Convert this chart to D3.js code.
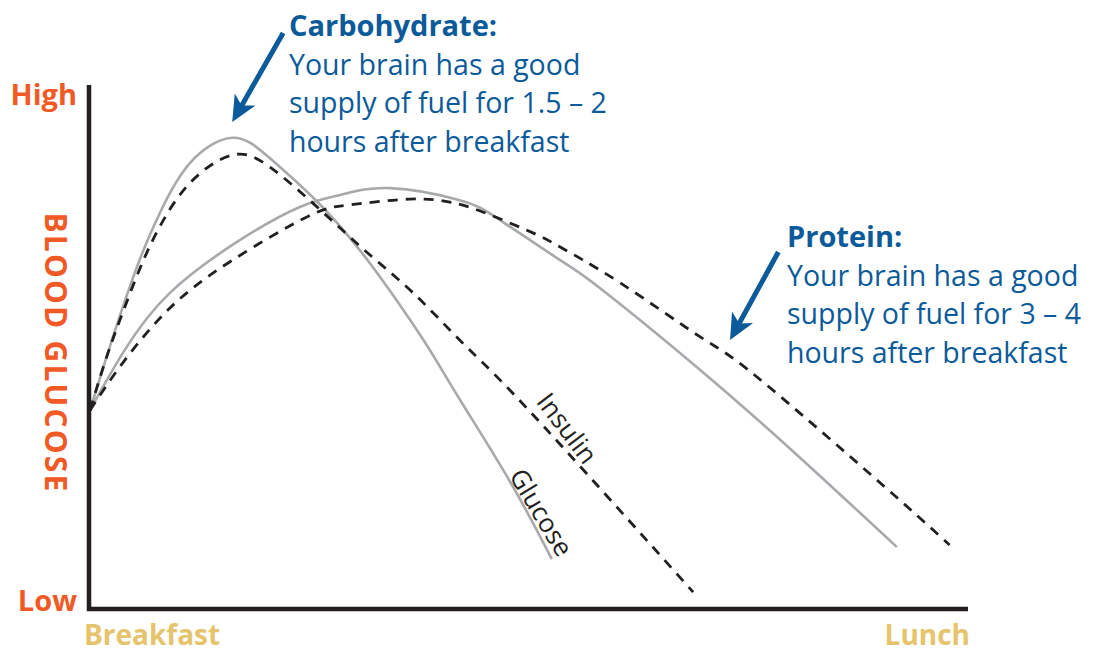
<!DOCTYPE html>
<html><head><meta charset="utf-8">
<script src="https://cdn.jsdelivr.net/npm/d3@7"></script>
<style>
html,body{margin:0;padding:0;background:#fff;}
svg{display:block;}
</style></head>
<body>
<svg id="chart" width="1097" height="653"></svg>
<script>
// ---- data (x: 0 = Breakfast .. 100 = Lunch, y: 0 = Low .. 100 = High) ----
const carbGlucoseX  = [0, 1.7, 3.4, 5.7, 8.0, 11.4, 16.2, 20.5, 26.0, 30.8, 34.5, 38.4, 42.1, 47.8, 52.6];
const carbGlucoseY  = [38.5, 47.7, 56.5, 67.4, 76.3, 85.7, 90.5, 86.6, 78.1, 68.9, 60.5, 50.8, 40.6, 25.0, 10.1];
const carbInsulinX  = [0, 1.7, 3.4, 5.7, 8.0, 11.4, 16.2, 20.5, 26.0, 31.5, 36.8, 42.1, 47.5, 56.9, 68.7];
const carbInsulinY  = [38.5, 47.7, 55.7, 65.6, 73.7, 81.9, 87.2, 84.9, 77.1, 68.7, 60.9, 51.9, 42.9, 25.8, 3.8];
const protGlucoseX  = [0, 3.8, 9.1, 17.1, 23.9, 28.5, 34.2, 42.1, 46.7, 53.5, 58.1, 69.5, 80.9, 91.9];
const protGlucoseY  = [38.5, 49.6, 60.9, 71.0, 77.3, 79.6, 80.9, 78.6, 74.8, 67.2, 61.8, 46.2, 29.4, 12.4];
const protInsulinX  = [0, 3.8, 9.1, 15.9, 24.7, 29.6, 36.4, 41.0, 44.8, 50.5, 53.5, 60.4, 69.5, 76.0, 90.3, 97.9];
const protInsulinY  = [38.5, 47.7, 58.0, 66.8, 75.4, 77.7, 78.8, 78.2, 76.3, 72.3, 69.7, 62.8, 52.5, 44.8, 24.2, 12.8];

const yTickLabels = ["Low", "High"];
const xTickLabels = ["Breakfast", "Lunch"];
const yAxisTitle = "BLOOD GLUCOSE";
const curveLabels = ["Insulin", "Glucose"];
const carbTitle = "Carbohydrate:";
const carbLines = ["Your brain has a good", "supply of fuel for 1.5 \u2013 2", "hours after breakfast"];
const protTitle = "Protein:";
const protLines = ["Your brain has a good", "supply of fuel for 3 \u2013 4", "hours after breakfast"];

// ---- layout ----
const svg = d3.select("#chart");
const x = d3.scaleLinear().domain([0, 100]).range([90, 968]);
const y = d3.scaleLinear().domain([0, 100]).range([612, 88]);

const ORANGE = "#f15a24", GOLD = "#e6c46c", BLUE = "#0b5a99", INK = "#231f20", GRAY = "#a7a9ac";
const FONT = "'Open Sans', 'Noto Sans', sans-serif";

const zip = (xs, ys) => xs.map((v, i) => [v, ys[i]]);
const line = d3.line().x(d => x(d[0])).y(d => y(d[1])).curve(d3.curveNatural);

// curves
const g = svg.append("g");
g.append("path").attr("d", line(zip(protGlucoseX, protGlucoseY)))
  .attr("fill", "none").attr("stroke", GRAY).attr("stroke-width", 2.6);
g.append("path").attr("d", line(zip(carbGlucoseX, carbGlucoseY)))
  .attr("fill", "none").attr("stroke", GRAY).attr("stroke-width", 2.6);
g.append("path").attr("d", line(zip(protInsulinX, protInsulinY)))
  .attr("fill", "none").attr("stroke", INK).attr("stroke-width", 2.8).attr("stroke-dasharray", "10,8");
g.append("path").attr("d", line(zip(carbInsulinX, carbInsulinY)))
  .attr("fill", "none").attr("stroke", INK).attr("stroke-width", 2.8).attr("stroke-dasharray", "10,8");

// axes
svg.append("line").attr("x1", 89).attr("x2", 89).attr("y1", 85).attr("y2", 611)
  .attr("stroke", INK).attr("stroke-width", 4.5);
svg.append("line").attr("x1", 87).attr("x2", 968).attr("y1", 609).attr("y2", 609)
  .attr("stroke", INK).attr("stroke-width", 4.5);

// axis labels
svg.append("text").text(yTickLabels[1]).attr("x", 77).attr("y", 105).attr("text-anchor", "end")
  .attr("font-family", FONT).attr("font-weight", 700).attr("font-size", 29).attr("fill", ORANGE);
svg.append("text").text(yTickLabels[0]).attr("x", 77).attr("y", 611).attr("text-anchor", "end")
  .attr("font-family", FONT).attr("font-weight", 700).attr("font-size", 29).attr("fill", ORANGE);
svg.append("text").text(xTickLabels[0]).attr("x", 84).attr("y", 645)
  .attr("font-family", FONT).attr("font-weight", 700).attr("font-size", 28).attr("fill", GOLD);
svg.append("text").text(xTickLabels[1]).attr("x", 970).attr("y", 645).attr("text-anchor", "end")
  .attr("font-family", FONT).attr("font-weight", 700).attr("font-size", 28).attr("fill", GOLD);
svg.append("text").text(yAxisTitle)
  .attr("transform", "translate(45,353) rotate(90)").attr("text-anchor", "middle")
  .attr("font-family", FONT).attr("font-weight", 700).attr("font-size", 30).attr("letter-spacing", 2.2)
  .attr("fill", ORANGE);

// curve labels
svg.append("text").text(curveLabels[0])
  .attr("transform", `translate(${x(53.5)},${y(34.0)}) rotate(53)`).attr("text-anchor", "middle")
  .attr("font-family", FONT).attr("font-size", 26).attr("fill", INK);
svg.append("text").text(curveLabels[1])
  .attr("transform", `translate(${x(50.5)},${y(18.1)}) rotate(59)`).attr("text-anchor", "middle")
  .attr("font-family", FONT).attr("font-size", 26).attr("fill", INK);

// annotations
function note(tx, ty, title, lines) {
  const t = svg.append("text").attr("font-family", FONT).attr("fill", BLUE);
  t.append("tspan").text(title).attr("x", tx).attr("y", ty).attr("font-weight", 700).attr("font-size", 29);
  lines.forEach((l, i) => t.append("tspan").text(l).attr("x", tx).attr("y", ty + 38.5 * (i + 1)).attr("font-size", 28.5));
}
note(289, 36, carbTitle, carbLines);
note(787, 247, protTitle, protLines);

function arrow(x0, y0, x1, y1) {
  const X0 = x(x0), Y0 = y(y0), X1 = x(x1), Y1 = y(y1);
  const ang = Math.atan2(Y1 - Y0, X1 - X0);
  const len = Math.hypot(X1 - X0, Y1 - Y0);
  const ga = svg.append("g").attr("transform", `translate(${X0},${Y0}) rotate(${ang * 180 / Math.PI})`);
  ga.append("line").attr("x1", 0).attr("y1", 0).attr("x2", len - 14).attr("y2", 0)
    .attr("stroke", BLUE).attr("stroke-width", 5);
  ga.append("path").attr("d", `M${len},0 L${len - 26},-12 L${len - 19},0 L${len - 26},12 Z`).attr("fill", BLUE);
}
arrow(22.0, 110.5, 16.2, 93.5);
arrow(78.4, 68.7, 72.9, 51.9);
</script>
</body></html>
